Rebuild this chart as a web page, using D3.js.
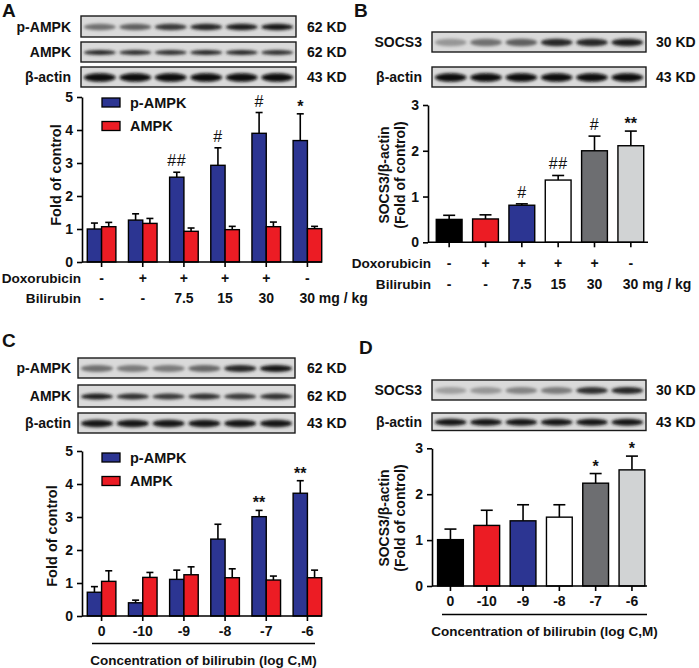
<!DOCTYPE html>
<html><head><meta charset="utf-8">
<script src="https://cdn.jsdelivr.net/npm/d3@7"></script>
<style>
body{margin:0;background:#fff}
svg{display:block}
</style>
</head><body>
<svg id="c" width="699" height="668"></svg>
<script>
// ---------------- data ----------------
const groupIdx = [0, 1, 2, 3, 4, 5];
const doxoRow = ["-", "+", "+", "+", "+", "-"];
const biliRow = ["-", "-", "7.5", "15", "30", "30"];
const biliUnit = " mg / kg";
const concLabels = ["0", "-10", "-9", "-8", "-7", "-6"];
const legendNames = ["p-AMPK", "AMPK"];
const concTitle = "Concentration of bilirubin (log C,M)";

const pAMPK_A = [1.00, 1.27, 2.57, 2.93, 3.90, 3.68];
const pAMPK_A_sem = [0.18, 0.19, 0.15, 0.53, 0.63, 0.81];
const AMPK_A = [1.07, 1.17, 0.93, 0.98, 1.07, 1.01];
const AMPK_A_sem = [0.13, 0.15, 0.10, 0.10, 0.14, 0.07];
const sigA = ["", "", "##", "#", "#", "*"];

const SOCS3_B = [0.50, 0.51, 0.81, 1.36, 2.00, 2.11];
const SOCS3_B_sem = [0.09, 0.09, 0.03, 0.10, 0.32, 0.32];
const sigB = ["", "", "#", "##", "#", "**"];

const pAMPK_C = [0.72, 0.40, 1.11, 2.33, 3.01, 3.72];
const pAMPK_C_sem = [0.17, 0.08, 0.28, 0.45, 0.19, 0.38];
const AMPK_C = [1.05, 1.17, 1.25, 1.16, 1.09, 1.16];
const AMPK_C_sem = [0.32, 0.15, 0.24, 0.27, 0.12, 0.23];
const sigC = ["", "", "", "", "**", "**"];

const SOCS3_D = [1.01, 1.32, 1.42, 1.50, 2.24, 2.53];
const SOCS3_D_sem = [0.23, 0.33, 0.35, 0.27, 0.21, 0.30];
const sigD = ["", "", "", "", "*", "*"];

// western blot band intensities (0..1)
const blotA_pAMPK = [0.45, 0.55, 0.75, 0.85, 0.9, 0.95];
const blotA_AMPK = [0.85, 0.8, 0.8, 0.85, 0.85, 0.8];
const blotA_actin = [1, 1, 1, 1, 1, 1];
const blotB_SOCS3 = [0.25, 0.45, 0.55, 0.85, 0.85, 0.9];
const blotB_actin = [1, 1, 1, 1, 1, 1];
const blotC_pAMPK = [0.45, 0.4, 0.4, 0.5, 0.85, 0.95];
const blotC_AMPK = [0.9, 0.8, 0.75, 0.8, 0.75, 0.8];
const blotC_actin = [0.95, 0.95, 0.95, 0.95, 0.95, 0.95];
const blotD_SOCS3 = [0.2, 0.25, 0.35, 0.4, 0.8, 0.85];
const blotD_actin = [0.95, 0.95, 0.95, 0.95, 0.95, 0.95];

// ---------------- style ----------------
const FONT = '"Liberation Sans", Arial, Helvetica, sans-serif';
const BLUE = "#2c3592", RED = "#ec1c24";
const socsColors = ["#000000", RED, BLUE, "#ffffff", "#6d6e71", "#d1d3d4"];
const SW = 1.6;

const svg = d3.select("#c");
const defs = svg.append("defs");
defs.append("filter").attr("id", "blur").attr("x", "-30%").attr("y", "-100%").attr("width", "160%").attr("height", "300%")
  .append("feGaussianBlur").attr("stdDeviation", 1.5);

function txt(g, x, y, s, opt = {}) {
  return g.append("text").attr("x", x).attr("y", y).text(s)
    .attr("font-family", FONT).attr("font-size", opt.size || 14)
    .attr("font-weight", opt.weight || "bold")
    .attr("text-anchor", opt.anchor || "start")
    .attr("fill", "#111");
}

let clipN = 0;
function blot(g, x0, x1, yT, yB, intens, ry, label, kd, labelX, kdX) {
  const id = "clip" + (clipN++);
  defs.append("clipPath").attr("id", id).append("rect")
    .attr("x", x0).attr("y", yT).attr("width", x1 - x0).attr("height", yB - yT);
  const bg = g.append("g").attr("clip-path", `url(#${id})`);
  bg.append("rect").attr("x", x0).attr("y", yT).attr("width", x1 - x0).attr("height", yB - yT).attr("fill", "#dadada");
  const lanes = d3.scaleBand().domain(groupIdx).range([x0, x1]).paddingInner(0.1).paddingOuter(0.08);
  const col = d3.interpolateRgb("#c4c4c4", "#0a0a0a");
  bg.selectAll("ellipse").data(intens).join("ellipse")
    .attr("cx", (d, i) => lanes(i) + lanes.bandwidth() / 2)
    .attr("cy", (yT + yB) / 2 + 0.5)
    .attr("rx", lanes.bandwidth() / 2)
    .attr("ry", ry)
    .attr("fill", d => col(d))
    .attr("filter", "url(#blur)");
  g.append("rect").attr("x", x0).attr("y", yT).attr("width", x1 - x0).attr("height", yB - yT)
    .attr("fill", "none").attr("stroke", "#1a1a1a").attr("stroke-width", 1.4);
  txt(g, labelX, (yT + yB) / 2, label, { anchor: "end" }).attr("dy", "0.36em");
  txt(g, kdX, (yT + yB) / 2, kd).attr("dy", "0.36em");
}

function styleAxis(ax) {
  ax.selectAll(".tick line").attr("stroke-width", SW).attr("stroke", "#000");
  ax.select(".domain").attr("stroke-width", SW).attr("stroke", "#000");
  ax.selectAll("text").attr("font-size", 14).attr("font-weight", "bold").attr("font-family", FONT).attr("fill", "#111");
}

function yAxis(g, y, xPos, n) {
  const ax = g.append("g").attr("transform", `translate(${xPos},0)`)
    .call(d3.axisLeft(y).ticks(n).tickSize(5).tickPadding(4).tickSizeOuter(0));
  styleAxis(ax);
}

function xAxis(g, x, yPos, xa, xb, labels) {
  const ax = g.append("g").attr("transform", `translate(0,${yPos})`)
    .call(d3.axisBottom(x).tickSize(5).tickPadding(5).tickFormat((d, i) => labels ? labels[i] : ""));
  ax.select(".domain").remove();
  styleAxis(ax);
  g.append("line").attr("x1", xa).attr("x2", xb).attr("y1", yPos).attr("y2", yPos)
    .attr("stroke", "#000").attr("stroke-width", SW);
}

function errBar(g, cx, yTop, yErr, capW) {
  g.append("line").attr("x1", cx).attr("x2", cx).attr("y1", yTop).attr("y2", yErr).attr("stroke", "#000").attr("stroke-width", SW);
  g.append("line").attr("x1", cx - capW / 2).attr("x2", cx + capW / 2).attr("y1", yErr).attr("y2", yErr).attr("stroke", "#000").attr("stroke-width", SW);
}

function sig(g, cx, yErr, s) {
  if (!s) return;
  const star = s.indexOf("*") >= 0;
  txt(g, cx, yErr - (star ? 2 : 6), s, { anchor: "middle", weight: star ? "bold" : "normal", size: star ? 16 : 16 })
    .attr("letter-spacing", star ? 0 : 0.5);
}

function grouped(g, cfg) {
  const y = d3.scaleLinear().domain([0, 5]).range([cfg.y0, cfg.y5]);
  const x = d3.scaleBand().domain(groupIdx).range(cfg.xr).paddingInner(0.305).paddingOuter(0.1525);
  const xs = d3.scaleBand().domain([0, 1]).range([0, x.bandwidth()]);
  const series = [
    { v: cfg.blue, e: cfg.blueSem, c: BLUE },
    { v: cfg.red, e: cfg.redSem, c: RED }
  ];
  series.forEach((s, si) => {
    groupIdx.forEach(i => {
      const bx = x(i) + xs(si), bw = xs.bandwidth();
      errBar(g, bx + bw / 2, y(s.v[i]), y(s.v[i] + s.e[i]), 7);
    });
    g.selectAll(null).data(s.v).join("rect")
      .attr("x", (d, i) => x(i) + xs(si))
      .attr("y", d => y(d))
      .attr("width", xs.bandwidth())
      .attr("height", d => y(0) - y(d))
      .attr("fill", s.c).attr("stroke", "#000").attr("stroke-width", 1.4);
  });
  groupIdx.forEach(i => sig(g, x(i) + xs(0) + xs.bandwidth() / 2, y(cfg.blue[i] + cfg.blueSem[i]), cfg.sig[i]));
  yAxis(g, y, cfg.axisX, 5);
  xAxis(g, x, cfg.y0, cfg.axisX, cfg.axisEnd, cfg.xLabels);
  // legend
  [BLUE, RED].forEach((c, i) => {
    const ly = cfg.legY + i * 23.5;
    g.append("rect").attr("x", 102).attr("y", ly).attr("width", 18).attr("height", 9)
      .attr("fill", c).attr("stroke", "#000").attr("stroke-width", 1.3);
    txt(g, 130, ly + 4.5, legendNames[i]).attr("dy", "0.36em").attr("font-size", 14.5);
  });
  // y title
  txt(g, 0, 0, "Fold of control", { anchor: "middle", size: 14.5 })
    .attr("transform", `translate(${cfg.titleX},${cfg.titleY}) rotate(-90)`);
  return x;
}

function single(g, cfg) {
  const y = d3.scaleLinear().domain([0, 3]).range([cfg.y0, cfg.y3]);
  const x = d3.scaleBand().domain(groupIdx).range(cfg.xr).paddingInner(0.29).paddingOuter(0.145);
  groupIdx.forEach(i => errBar(g, x(i) + x.bandwidth() / 2, y(cfg.v[i]), y(cfg.v[i] + cfg.e[i]), 12));
  g.selectAll(null).data(cfg.v).join("rect")
    .attr("x", (d, i) => x(i)).attr("y", d => y(d))
    .attr("width", x.bandwidth()).attr("height", d => y(0) - y(d))
    .attr("fill", (d, i) => socsColors[i]).attr("stroke", "#000").attr("stroke-width", 1.4);
  groupIdx.forEach(i => sig(g, x(i) + x.bandwidth() / 2, y(cfg.v[i] + cfg.e[i]), cfg.sig[i]));
  yAxis(g, y, cfg.axisX, 3);
  xAxis(g, x, cfg.y0, cfg.axisX, cfg.axisEnd, cfg.xLabels);
  const t = g.append("g").attr("transform", `translate(${cfg.titleX},${cfg.titleY}) rotate(-90)`);
  txt(t, 0, 0, "SOCS3/β-actin", { anchor: "middle", size: 14 });
  txt(t, 0, 16, "(Fold of control)", { anchor: "middle", size: 14 });
  return x;
}

function treatRows(g, x, labelEnd, y1, y2) {
  txt(g, labelEnd, y1, "Doxorubicin", { anchor: "end", size: 13.6 });
  txt(g, labelEnd, y2, "Bilirubin", { anchor: "end", size: 13.6 });
  groupIdx.forEach(i => {
    const cx = x(i) + x.bandwidth() / 2;
    txt(g, cx, y1, doxoRow[i], { anchor: "middle" });
    if (i === groupIdx.length - 1) {
      txt(g, cx - 8, y2, biliRow[i] + biliUnit);
    } else {
      txt(g, cx, y2, biliRow[i], { anchor: "middle" });
    }
  });
}

function concTitleLine(g, xa, xb, yLine, yText) {
  g.append("line").attr("x1", xa).attr("x2", xb).attr("y1", yLine).attr("y2", yLine).attr("stroke", "#000").attr("stroke-width", 1.3);
  txt(g, (xa + xb) / 2, yText, concTitle, { anchor: "middle", size: 13.5 });
}

// ---------------- Panel A ----------------
const gA = svg.append("g");
txt(gA, 2, 17, "A", { size: 19 });
blot(gA, 81, 296, 16, 37, blotA_pAMPK, 3.2, "p-AMPK", "62 KD", 71, 307);
blot(gA, 81, 296, 42, 62, blotA_AMPK, 2.6, "AMPK", "62 KD", 71, 307);
blot(gA, 81, 296, 67, 87, blotA_actin, 4.2, "β-actin", "43 KD", 71, 307);
const xA = grouped(gA, {
  y0: 262, y5: 97, xr: [81, 328], axisX: 82, axisEnd: 322,
  blue: pAMPK_A, blueSem: pAMPK_A_sem, red: AMPK_A, redSem: AMPK_A_sem, sig: sigA,
  legY: 98, titleX: 61, titleY: 175, xLabels: null
});
treatRows(gA, xA, 81, 283, 303);

// ---------------- Panel B ----------------
const gB = svg.append("g");
txt(gB, 354, 17, "B", { size: 19 });
blot(gB, 432, 646, 32, 52, blotB_SOCS3, 3.8, "SOCS3", "30 KD", 422, 656);
blot(gB, 432, 646, 67, 87, blotB_actin, 4.2, "β-actin", "43 KD", 422, 656);
const xB = single(gB, {
  y0: 242.3, y3: 105, xr: [431, 649], axisX: 428, axisEnd: 648,
  v: SOCS3_B, e: SOCS3_B_sem, sig: sigB, titleX: 389, titleY: 175, xLabels: null
});
treatRows(gB, xB, 431, 268, 289);

// ---------------- Panel C ----------------
const gC = svg.append("g");
txt(gC, 2, 347, "C", { size: 19 });
blot(gC, 78, 295, 358, 378, blotC_pAMPK, 3.4, "p-AMPK", "62 KD", 71, 307);
blot(gC, 78, 295, 385, 407, blotC_AMPK, 3.0, "AMPK", "62 KD", 71, 307);
blot(gC, 78, 295, 413, 433, blotC_actin, 3.8, "β-actin", "43 KD", 71, 307);
grouped(gC, {
  y0: 616, y5: 451, xr: [81, 328], axisX: 82, axisEnd: 322,
  blue: pAMPK_C, blueSem: pAMPK_C_sem, red: AMPK_C, redSem: AMPK_C_sem, sig: sigC,
  legY: 453, titleX: 57, titleY: 536, xLabels: concLabels
});
concTitleLine(gC, 92, 315, 643.5, 665);

// ---------------- Panel D ----------------
const gD = svg.append("g");
txt(gD, 359, 354, "D", { size: 19 });
blot(gD, 432, 646, 380, 400, blotD_SOCS3, 3.6, "SOCS3", "30 KD", 422, 656);
blot(gD, 432, 646, 413, 430.5, blotD_actin, 3.6, "β-actin", "43 KD", 422, 656);
single(gD, {
  y0: 586, y3: 448.3, xr: [432.3, 650.1], axisX: 432, axisEnd: 647,
  v: SOCS3_D, e: SOCS3_D_sem, sig: sigD, titleX: 389, titleY: 518, xLabels: concLabels
});
concTitleLine(gD, 442, 647, 614.5, 636);
</script>
</body></html>
